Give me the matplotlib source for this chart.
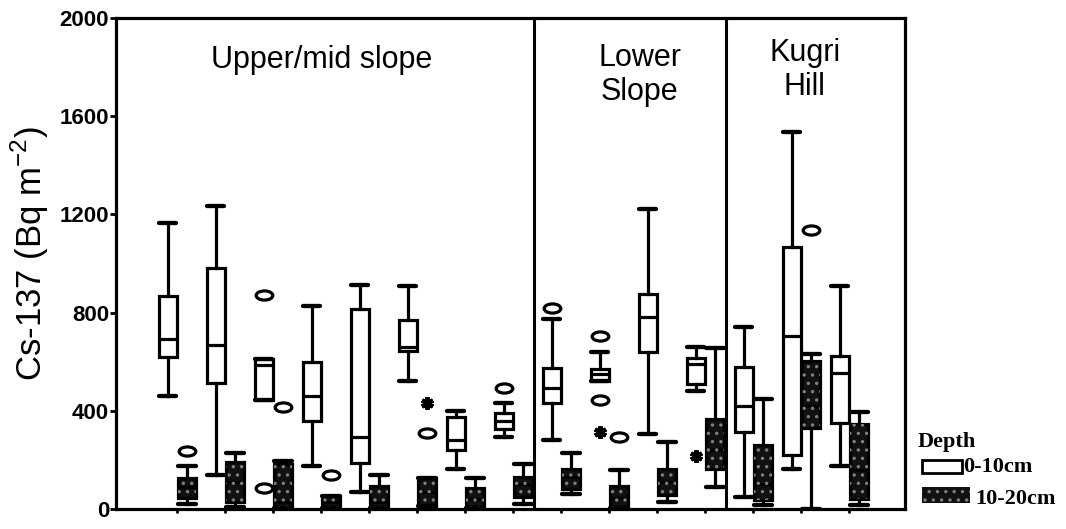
import matplotlib
matplotlib.use("Agg")
import matplotlib.pyplot as plt
from matplotlib.path import Path
from matplotlib.patches import PathPatch, Rectangle

plt.rcParams["font.family"] = ["Liberation Sans", "DejaVu Sans"]
plt.rcParams["hatch.linewidth"] = 1.2

groups = ["Upper/mid slope", "Lower\nSlope", "Kugri\nHill"]
group_sizes = [8, 4, 3]

# 0-10 cm: whisker low, Q1, median, Q3, whisker high (Bq m-2)
top_lo  = [460, 138, 445, 175, 68, 523, 163, 295, 280, 520, 307, 480, 48, 163, 175]
top_q1  = [620, 515, 445, 358, 188, 645, 240, 325, 430, 520, 640, 511, 314, 221, 352]
top_med = [692, 667, 588, 460, 294, 660, 282, 358, 494, 548, 782, 589, 420, 703, 555]
top_q3  = [868, 980, 612, 600, 816, 772, 375, 392, 575, 572, 875, 616, 578, 1069, 625]
top_hi  = [1165, 1235, 612, 826, 911, 910, 400, 431, 775, 640, 1222, 660, 742, 1537, 910]
top_circ = [[], [], [870, 85], [], [], [], [], [495], [818], [705, 445], [], [], [], [], []]
top_star = [[], [], [], [], [], [], [], [], [], [315], [], [215], [], [], []]

# 10-20 cm
sub_lo  = [20, 10, 5, 5, 5, 12, 5, 22, 62, 5, 29, 90, 15, 0, 15]
sub_q1  = [45, 30, 10, 8, 10, 14, 8, 50, 80, 8, 56, 165, 38, 330, 40]
sub_med = [90, 110, 30, 30, 30, 70, 40, 100, 130, 45, 110, 240, 100, 420, 160]
sub_q3  = [125, 190, 185, 55, 95, 125, 85, 130, 162, 95, 165, 365, 260, 605, 345]
sub_hi  = [175, 230, 195, 55, 140, 128, 125, 182, 228, 160, 274, 657, 450, 630, 395]
sub_circ = [[235], [], [415], [140], [], [310], [], [], [], [295], [], [], [], [1135], []]
sub_star = [[], [], [], [], [], [430], [], [], [], [], [], [], [], [], []]

yticks = [0, 400, 800, 1200, 1600, 2000]

fig = plt.figure(figsize=(10.66, 5.29), dpi=100)
ax = fig.add_axes([0.1088, 0.0378, 0.7402, 0.928])

pos = list(range(len(top_med)))
circ = Path.unit_circle()
oval = Path(circ.vertices * [1.0, 0.55], circ.codes)
lw = 2.3
dark = "#111111"


def draw_boxes(lo, q1, med, q3, hi, circs, stars, shift, face):
    stats = []
    for i in range(len(med)):
        stats.append(dict(whislo=lo[i], q1=q1[i], med=med[i], q3=q3[i], whishi=hi[i], fliers=[]))
    xs = [p + shift for p in pos]
    bp = ax.bxp(stats, positions=xs, widths=0.38, capwidths=0.36, patch_artist=True,
                showfliers=False,
                boxprops=dict(facecolor=face, edgecolor="black", linewidth=lw),
                medianprops=dict(color="black", linewidth=lw),
                whiskerprops=dict(color="black", linewidth=lw),
                capprops=dict(color="black", linewidth=lw + 0.8, solid_capstyle="round"))
    for i in range(len(med)):
        for v in circs[i]:
            ax.plot(xs[i], v, marker=oval, ms=12, mfc="none", mec="black", mew=2.3)
        for v in stars[i]:
            ax.plot(xs[i], v, marker=(6, 2, 0), ms=9, mec="black", mew=3)
    return bp


draw_boxes(top_lo, top_q1, top_med, top_q3, top_hi, top_circ, top_star, -0.2, "white")
bp = draw_boxes(sub_lo, sub_q1, sub_med, sub_q3, sub_hi, sub_circ, sub_star, 0.2, dark)
for b in bp["boxes"]:
    ax.add_patch(PathPatch(b.get_path(), facecolor="none", edgecolor="#808080",
                           hatch="..", linewidth=0, zorder=b.get_zorder() + 0.1))

# group dividers and labels
edges = []
n = 0
for s in group_sizes:
    n += s
    edges.append(n - 0.58)
for e in edges[:-1]:
    ax.axvline(e, color="black", lw=2.2)

label_x = [0.261, 0.664, 0.873]
label_y = [0.914, 0.884, 0.894]
for g, x, y in zip(groups, label_x, label_y):
    ax.text(x, y, g, transform=ax.transAxes, ha="center", va="center",
            fontsize=22, linespacing=1.15)

ax.set_xlim(-1.28, 15.16)
ax.set_ylim(0, 2000)
ax.set_xticks(pos)
ax.set_xticklabels([])
ax.tick_params(axis="x", length=3, width=2, direction="out")
ax.set_yticks(yticks)
ax.set_yticklabels([str(t) for t in yticks], fontsize=16, fontweight="bold")
ax.tick_params(axis="y", length=4, width=2, direction="out", pad=1)
for sp in ax.spines.values():
    sp.set_linewidth(2.3)

ax.set_ylabel("Cs-137 (Bq m$^{\\mathregular{-2}}$)", fontsize=25)
ax.yaxis.set_label_coords(-0.082, 0.52)

# legend, drawn by hand in figure pixels
serif = ["Liberation Serif", "DejaVu Serif"]
W, H = 1066, 529
fig.text(918 / W, 1 - 442 / H, "Depth", family=serif, fontsize=16, fontweight="bold",
         ha="left", va="center")
fig.patches.append(Rectangle((922 / W, 1 - 473 / H), 40 / W, 13 / H, transform=fig.transFigure,
                             facecolor="white", edgecolor="black", lw=2, figure=fig))
fig.patches.append(Rectangle((922 / W, 1 - 503 / H), 48 / W, 16 / H, transform=fig.transFigure,
                             facecolor=dark, edgecolor="#808080", hatch="..", lw=0, figure=fig))
fig.text(963 / W, 1 - 467 / H, "0-10cm", family=serif, fontsize=16, fontweight="bold",
         ha="left", va="center")
fig.text(975 / W, 1 - 499 / H, "10-20cm", family=serif, fontsize=16, fontweight="bold",
         ha="left", va="center")

fig.savefig("out.png", dpi=100)
